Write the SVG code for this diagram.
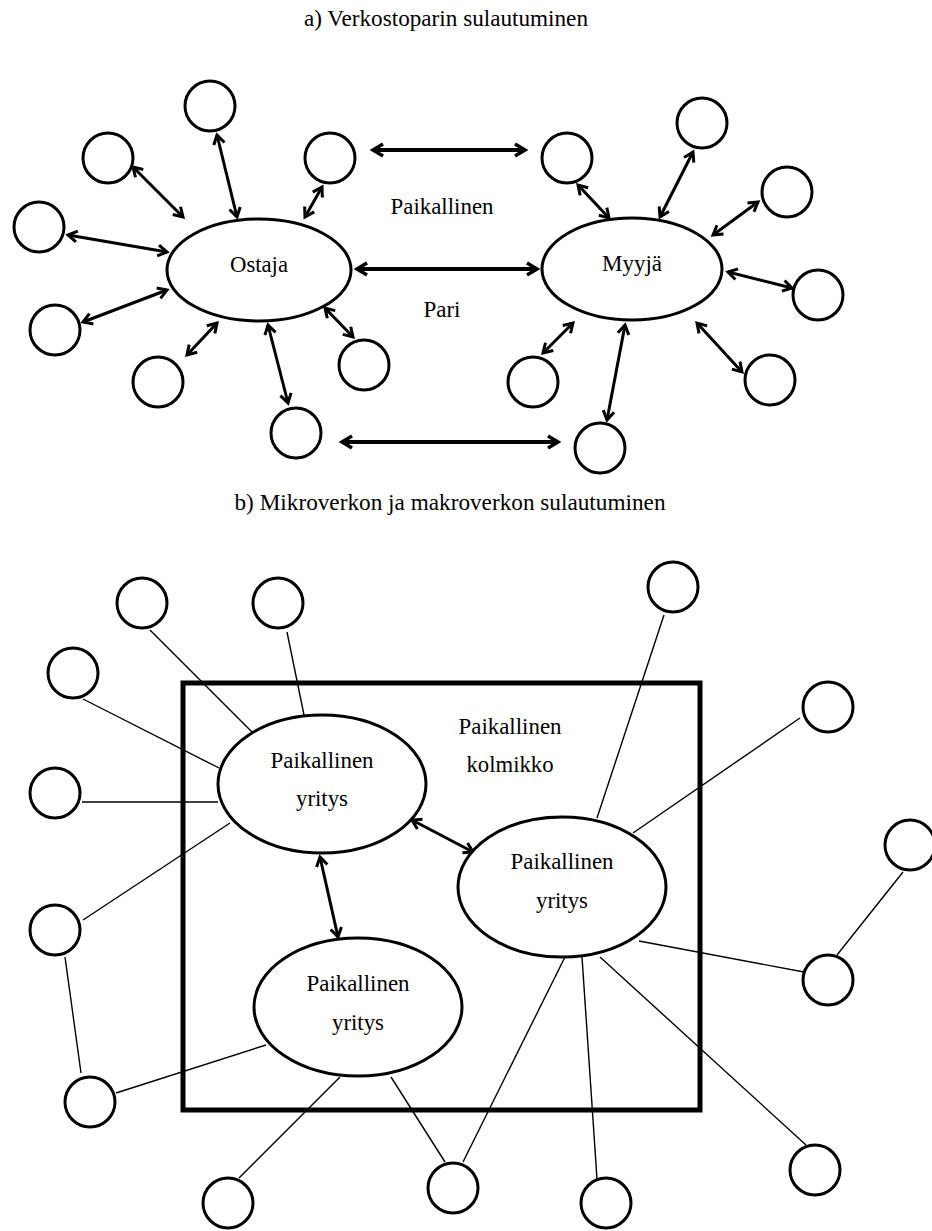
<svg xmlns="http://www.w3.org/2000/svg" width="932" height="1231" viewBox="0 0 932 1231">
<style>
.c{fill:#fff;stroke:#000;stroke-width:3}
.e{fill:#fff;stroke:#000;stroke-width:3}
text{font-family:'Liberation Serif','Times New Roman',Times,serif;font-size:24px;fill:#000;text-anchor:middle}
.a{stroke:#000;stroke-width:3;fill:none;marker-start:url(#ah);marker-end:url(#ah)}
.h{stroke:#000;stroke-width:4;fill:none;marker-start:url(#ah2);marker-end:url(#ah2)}
.l{stroke:#000;stroke-width:1.4;fill:none}
.box{fill:none;stroke:#000;stroke-width:5}
</style>
<defs>
<marker id="ah" viewBox="-12 -9 15 18" refX="0" refY="0" markerWidth="15" markerHeight="18" markerUnits="userSpaceOnUse" orient="auto-start-reverse"><path d="M-9,-5.5 L0,0 L-9,5.5" fill="none" stroke="#000" stroke-width="3"/></marker>
<marker id="ah2" viewBox="-13 -9 16 18" refX="0" refY="0" markerWidth="16" markerHeight="18" markerUnits="userSpaceOnUse" orient="auto-start-reverse"><path d="M-10,-6 L0,0 L-10,6" fill="none" stroke="#000" stroke-width="3.5"/></marker>
</defs>
<rect width="932" height="1231" fill="#fff"/>
<g id="titles">
<text x="446" y="26" textLength="284" lengthAdjust="spacingAndGlyphs">a) Verkostoparin sulautuminen</text>
<text x="450" y="510" textLength="431" lengthAdjust="spacingAndGlyphs">b) Mikroverkon ja makroverkon sulautuminen</text>
</g>

<rect id="kolmikko-box" class="box" x="183" y="683" width="517" height="427"/>

<g id="connectors">
<line class="a" x1="217" y1="135" x2="237" y2="217"/>
<line class="a" x1="133" y1="167" x2="183" y2="217"/>
<line class="a" x1="68" y1="235" x2="167" y2="252"/>
<line class="a" x1="83" y1="322" x2="167" y2="290"/>
<line class="a" x1="187" y1="355" x2="217" y2="323"/>
<line class="a" x1="268" y1="325" x2="288" y2="403"/>
<line class="a" x1="325" y1="308" x2="353" y2="337"/>
<line class="a" x1="322" y1="187" x2="305" y2="217"/>
<line class="a" x1="578" y1="185" x2="609" y2="218"/>
<line class="a" x1="693" y1="152" x2="660" y2="217"/>
<line class="a" x1="758" y1="202" x2="713" y2="235"/>
<line class="a" x1="728" y1="272" x2="792" y2="288"/>
<line class="a" x1="697" y1="323" x2="742" y2="372"/>
<line class="a" x1="625" y1="325" x2="607" y2="420"/>
<line class="a" x1="573" y1="323" x2="543" y2="353"/>
<line class="h" x1="373" y1="150" x2="525" y2="150"/>
<line class="h" x1="357" y1="269" x2="537" y2="269"/>
<line class="h" x1="342" y1="442" x2="558" y2="442"/>
<line class="l" x1="150" y1="630" x2="252" y2="732"/>
<line class="l" x1="287" y1="632" x2="304" y2="715"/>
<line class="l" x1="83" y1="699" x2="219" y2="768"/>
<line class="l" x1="82" y1="802" x2="218" y2="802"/>
<line class="l" x1="83" y1="920" x2="230" y2="823"/>
<line class="l" x1="664" y1="615" x2="597" y2="818"/>
<line class="l" x1="800" y1="718" x2="633" y2="833"/>
<line class="l" x1="903" y1="872" x2="837" y2="955"/>
<line class="l" x1="639" y1="941" x2="804" y2="972"/>
<line class="l" x1="565" y1="957" x2="463" y2="1162"/>
<line class="l" x1="582" y1="957" x2="597" y2="1179"/>
<line class="l" x1="600" y1="957" x2="806" y2="1145"/>
<line class="l" x1="340" y1="1077" x2="239" y2="1178"/>
<line class="l" x1="391" y1="1077" x2="445" y2="1162"/>
<line class="l" x1="266" y1="1045" x2="116" y2="1093"/>
<line class="l" x1="65" y1="957" x2="81" y2="1073"/>
<line class="a" x1="412" y1="820" x2="473" y2="852"/>
<line class="a" x1="320" y1="857" x2="338" y2="937"/>
</g>

<g id="ostaja"><ellipse class="e" cx="259" cy="270" rx="92" ry="51"/><text x="259" y="272" textLength="58" lengthAdjust="spacingAndGlyphs">Ostaja</text></g>
<g id="myyja"><ellipse class="e" cx="632" cy="269" rx="90" ry="51"/><text x="632" y="271" textLength="60" lengthAdjust="spacingAndGlyphs">Myyjä</text></g>
<g id="label-paikallinen"><text x="442" y="214" textLength="103" lengthAdjust="spacingAndGlyphs">Paikallinen</text></g>
<g id="label-pari"><text x="442" y="317" textLength="37" lengthAdjust="spacingAndGlyphs">Pari</text></g>

<g id="a-nodes">
<circle id="o1" class="c" cx="210" cy="106" r="25"/>
<circle id="o2" class="c" cx="108" cy="158" r="25"/>
<circle id="o3" class="c" cx="39" cy="227" r="25"/>
<circle id="o4" class="c" cx="55" cy="330" r="25"/>
<circle id="o5" class="c" cx="158" cy="382" r="25"/>
<circle id="o6" class="c" cx="296" cy="433" r="25"/>
<circle id="o7" class="c" cx="364" cy="365" r="25"/>
<circle id="o8" class="c" cx="330" cy="158" r="25"/>
<circle id="m1" class="c" cx="567" cy="158" r="25"/>
<circle id="m2" class="c" cx="702" cy="123" r="25"/>
<circle id="m3" class="c" cx="787" cy="192" r="25"/>
<circle id="m4" class="c" cx="818" cy="295" r="25"/>
<circle id="m5" class="c" cx="770" cy="380" r="25"/>
<circle id="m6" class="c" cx="600" cy="448" r="25"/>
<circle id="m7" class="c" cx="533" cy="382" r="25"/>
</g>

<g id="yritys1"><ellipse class="e" cx="322" cy="784" rx="104" ry="69"/><text x="322" y="768" textLength="103" lengthAdjust="spacingAndGlyphs">Paikallinen</text><text x="322" y="806" textLength="52" lengthAdjust="spacingAndGlyphs">yritys</text></g>
<g id="yritys2"><ellipse class="e" cx="562" cy="887" rx="104" ry="70"/><text x="562" y="869" textLength="103" lengthAdjust="spacingAndGlyphs">Paikallinen</text><text x="562" y="908" textLength="52" lengthAdjust="spacingAndGlyphs">yritys</text></g>
<g id="yritys3"><ellipse class="e" cx="358" cy="1007" rx="104" ry="69"/><text x="358" y="991" textLength="103" lengthAdjust="spacingAndGlyphs">Paikallinen</text><text x="358" y="1030" textLength="52" lengthAdjust="spacingAndGlyphs">yritys</text></g>
<g id="label-kolmikko"><text x="510" y="734" textLength="103" lengthAdjust="spacingAndGlyphs">Paikallinen</text><text x="510" y="772" textLength="87" lengthAdjust="spacingAndGlyphs">kolmikko</text></g>

<g id="b-nodes">
<circle class="c" cx="142" cy="603" r="25"/>
<circle class="c" cx="278" cy="603" r="25"/>
<circle class="c" cx="73" cy="673" r="25"/>
<circle class="c" cx="55" cy="793" r="25"/>
<circle class="c" cx="55" cy="930" r="25"/>
<circle class="c" cx="673" cy="587" r="25"/>
<circle class="c" cx="828" cy="707" r="25"/>
<circle class="c" cx="910" cy="845" r="25"/>
<circle class="c" cx="828" cy="980" r="25"/>
<circle class="c" cx="90" cy="1102" r="25"/>
<circle class="c" cx="228" cy="1203" r="25"/>
<circle class="c" cx="453" cy="1188" r="25"/>
<circle class="c" cx="606" cy="1203" r="25"/>
<circle class="c" cx="815" cy="1170" r="25"/>
</g>
</svg>
